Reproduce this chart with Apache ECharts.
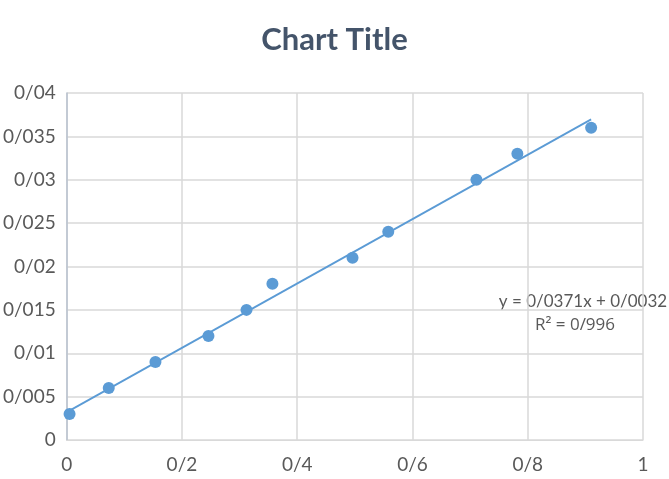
<!DOCTYPE html>
<html>
<head>
<meta charset="utf-8">
<script src="https://cdn.jsdelivr.net/npm/echarts@6/dist/echarts.min.js"></script>
<style>
  html, body { margin: 0; padding: 0; background: #fff; }
  #chart { width: 669px; height: 479px; }
</style>
</head>
<body>
<div id="chart"></div>
<script>
// داده‌ها
const xValues = [0.005, 0.073, 0.154, 0.246, 0.312, 0.357, 0.496, 0.558, 0.711, 0.782, 0.91];
const yValues = [0.003, 0.006, 0.009, 0.012, 0.015, 0.018, 0.021, 0.024, 0.030, 0.033, 0.036];
const trendSlope = 0.0371;
const trendIntercept = 0.0032;
const equationText = 'y = 0/0371x + 0/0032';
const rSquaredText = 'R² = 0/996';

const points = xValues.map((x, i) => [x, yValues[i]]);
const xMin = Math.min(...xValues);
const xMax = Math.max(...xValues);
const trendData = [xMin, xMax].map(x => [x, trendSlope * x + trendIntercept]);

// decimal separator shown as "/"
const fmt = v => String(+v.toFixed(4)).replace('.', '/');

const font = 'Lato, "Open Sans", sans-serif';
const chart = echarts.init(document.getElementById('chart'));
chart.setOption({
  animation: false,
  title: {
    text: 'Chart Title',
    left: 'center',
    top: 19,
    textStyle: { fontFamily: font, fontSize: 31, fontWeight: 'bold', color: '#44546a' }
  },
  grid: { left: 66, right: 26, top: 93, bottom: 39, containLabel: false },
  xAxis: {
    type: 'value',
    min: 0, max: 1, interval: 0.2,
    axisLine: { show: true, lineStyle: { color: '#d9d9d9', width: 1 } },
    axisTick: { show: false },
    splitLine: { show: true, lineStyle: { color: '#d9d9d9', width: 1.5 } },
    axisLabel: { formatter: fmt, color: '#595959', fontSize: 19, fontFamily: font, margin: 15 }
  },
  yAxis: {
    type: 'value',
    min: 0, max: 0.04, interval: 0.005,
    axisLine: { show: true, lineStyle: { color: '#b8c2cf', width: 1.5 } },
    axisTick: { show: false },
    splitLine: { show: true, lineStyle: { color: '#d9d9d9', width: 1.5 } },
    axisLabel: { formatter: fmt, color: '#595959', fontSize: 19, fontFamily: font, margin: 11 }
  },
  series: [
    {
      type: 'line',
      data: trendData,
      symbol: 'none',
      lineStyle: { color: '#5b9bd5', width: 1.8 },
      z: 2
    },
    {
      type: 'scatter',
      data: points,
      symbolSize: 12,
      itemStyle: { color: '#5b9bd5', opacity: 1 },
      z: 3
    }
  ],
  graphic: [
    {
      type: 'text',
      x: 583, y: 302,
      style: {
        text: equationText,
        fill: '#595959',
        font: '17px ' + font,
        align: 'center',
        verticalAlign: 'middle'
      }
    },
    {
      type: 'text',
      x: 575, y: 325,
      style: {
        text: rSquaredText,
        fill: '#595959',
        font: '17px "Open Sans", sans-serif',
        align: 'center',
        verticalAlign: 'middle'
      }
    }
  ]
});
</script>
</body>
</html>
